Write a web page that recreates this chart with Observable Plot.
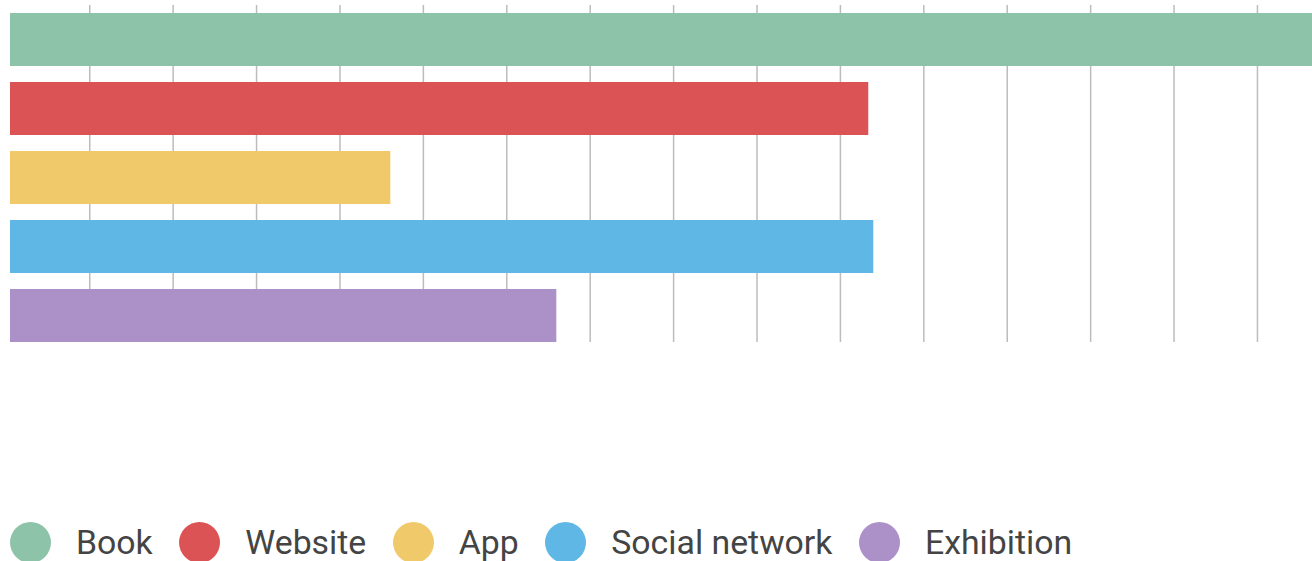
<!DOCTYPE html>
<html>
<head>
<meta charset="utf-8">
<script src="https://cdn.jsdelivr.net/npm/d3@7"></script>
<script src="https://cdn.jsdelivr.net/npm/@observablehq/plot@0.6"></script>
<style>
  html, body { margin: 0; padding: 0; background: #fff; }
  #chart svg { display: block; }
  .legend { display: flex; align-items: center; height: 44px; padding-left: 10px;
            font-family: Roboto, "Noto Sans", sans-serif; font-size: 33.8px; color: #444; }
  .sw { width: 41px; height: 41px; border-radius: 50%; margin-right: 25px; flex: none; }
  .lab { margin-right: 26.5px; white-space: nowrap; }
</style>
</head>
<body>
<div id="chart"></div>
<div class="legend" id="legend"></div>
<script>
const categories = ["Book", "Website", "App", "Social network", "Exhibition"];
const values = [156.1, 102.9, 45.6, 103.5, 65.5];
const colors = ["#8DC3A8", "#DC5356", "#F0C96A", "#5EB7E5", "#AC91C8"];
const gridTicks = [9.5, 19.5, 29.5, 39.5, 49.5, 59.5, 69.5, 79.5, 89.5, 99.5, 109.5, 119.5, 129.5, 139.5, 149.5];

const data = categories.map((c, i) => ({category: c, value: values[i]}));

const chart = Plot.plot({
  width: 1312,
  height: 520,
  marginLeft: 10,
  marginRight: 0,
  marginTop: 5,
  marginBottom: 178,
  x: {domain: [0, 156.1], axis: null},
  y: {domain: categories, axis: null, paddingInner: 0.23, paddingOuter: 0.0359, align: 1},
  color: {domain: categories, range: colors},
  marks: [
    Plot.ruleX(gridTicks, {stroke: "#bcbcbc", strokeWidth: 1.5, strokeOpacity: 1}),
    Plot.barX(data, {x: "value", y: "category", fill: "category"})
  ]
});
document.getElementById("chart").appendChild(chart);

const legend = document.getElementById("legend");
categories.forEach((c, i) => {
  const sw = document.createElement("span");
  sw.className = "sw";
  sw.style.background = colors[i];
  const lab = document.createElement("span");
  lab.className = "lab";
  lab.textContent = c;
  legend.appendChild(sw);
  legend.appendChild(lab);
});
</script>
</body>
</html>
